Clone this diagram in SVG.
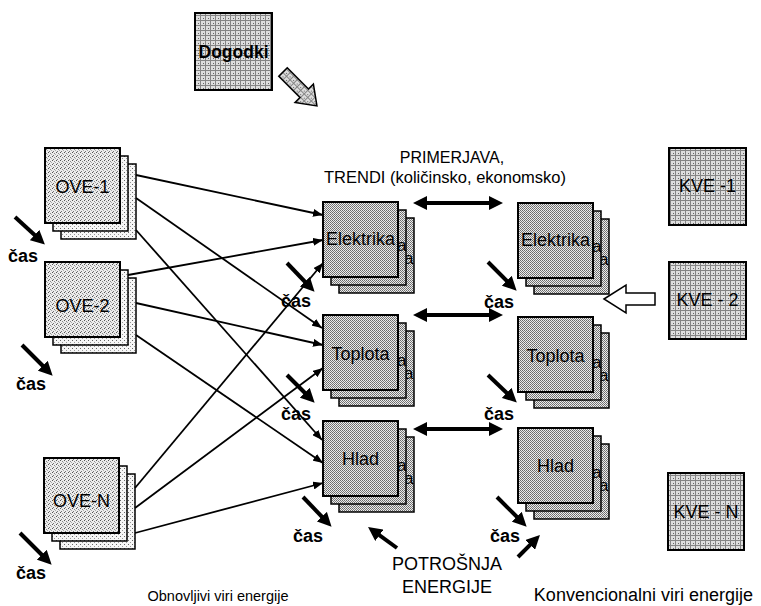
<svg xmlns="http://www.w3.org/2000/svg" width="761" height="606" viewBox="0 0 761 606">
<defs>
<pattern id="pOVE" width="4" height="4" patternUnits="userSpaceOnUse"><rect width="4" height="4" fill="#ececec"/><rect x="0" y="0" width="1" height="1" fill="#555"/><rect x="2" y="1" width="1" height="1" fill="#888"/><rect x="1" y="3" width="1" height="1" fill="#777"/><rect x="3" y="2" width="1" height="1" fill="#aaa"/></pattern>
<pattern id="pOVEb" width="4" height="4" patternUnits="userSpaceOnUse"><rect width="4" height="4" fill="#f6f6f6"/><rect x="0" y="0" width="1" height="1" fill="#666"/><rect x="2" y="2" width="1" height="1" fill="#999"/></pattern>
<pattern id="pDark" width="2" height="2" patternUnits="userSpaceOnUse"><rect width="2" height="2" fill="#ececec"/><rect x="0" y="0" width="1" height="1" fill="#6a6a6a"/><rect x="1" y="1" width="1" height="1" fill="#7a7a7a"/></pattern>
<pattern id="pGrid" width="5" height="5" patternUnits="userSpaceOnUse"><rect width="5" height="5" fill="#dedede"/><rect x="0" y="0" width="5" height="1" fill="#858585"/><rect x="0" y="0" width="1" height="5" fill="#858585"/><rect x="3" y="3" width="1" height="1" fill="#666"/></pattern>
<marker id="ah" markerWidth="10" markerHeight="8" refX="10" refY="4" orient="auto" markerUnits="userSpaceOnUse"><path d="M0,0 L10,4 L0,8 z" fill="#000"/></marker>
<marker id="th" markerWidth="14" markerHeight="14" refX="6" refY="7" orient="auto-start-reverse" markerUnits="userSpaceOnUse"><path d="M0,0 L14,7 L0,14 z" fill="#000"/></marker>
</defs>
<style>
.fr{stroke:#000;stroke-width:2}
.bk{stroke:#000;stroke-width:1.5}
.ove{fill:url(#pOVE)}
.oveb{fill:url(#pOVEb)}
.dk{fill:url(#pDark)}
.gr{fill:url(#pGrid)}
.lbl{font-family:"Liberation Sans",Arial,sans-serif;font-size:18px;text-anchor:middle;fill:#000}
.frag{font-family:"Liberation Sans",Arial,sans-serif;font-size:17px;fill:#000}
.cas{font-family:"Liberation Sans",Arial,sans-serif;font-size:18px;font-weight:bold;fill:#000}
.txt{font-family:"Liberation Sans",Arial,sans-serif;fill:#000}
.thin{stroke:#000;stroke-width:1.8;fill:none;marker-end:url(#ah)}
.thick{stroke:#000;stroke-width:4;fill:none;marker-end:url(#th)}
.dbl{stroke:#000;stroke-width:4;fill:none;marker-end:url(#th);marker-start:url(#th)}
</style>

<g id="dogodki">
<rect class="fr gr" x="195" y="13" width="77" height="77"/>
<text class="txt" x="233.5" y="58" font-size="17.5" font-weight="bold" text-anchor="middle">Dogodki</text>
<polygon class="gr" stroke="#000" stroke-width="1.5" points="0,-6 30,-6 30,-13 48,0 30,13 30,6 0,6" transform="translate(283,72) rotate(45)"/>
</g>

<g id="ove-1">
<rect class="bk oveb" x="61" y="164" width="75" height="75"/>
<rect class="bk oveb" x="53" y="156" width="75" height="75"/>
<rect class="fr ove" x="45" y="148" width="75" height="75"/>
<text class="lbl" x="82.5" y="193">OVE-1</text>
</g>
<g id="ove-2">
<rect class="bk oveb" x="61" y="278" width="75" height="75"/>
<rect class="bk oveb" x="53" y="270" width="75" height="75"/>
<rect class="fr ove" x="45" y="262" width="75" height="75"/>
<text class="lbl" x="82.5" y="312">OVE-2</text>
</g>
<g id="ove-n">
<rect class="bk oveb" x="60" y="474" width="75" height="75"/>
<rect class="bk oveb" x="52" y="466" width="75" height="75"/>
<rect class="fr ove" x="44" y="458" width="75" height="75"/>
<text class="lbl" x="81.5" y="507">OVE-N</text>
</g>

<g id="elektrika-1">
<rect class="bk dk" x="339" y="218" width="75" height="75"/>
<text class="frag" x="404" y="264">a</text>
<rect class="bk dk" x="331" y="210" width="75" height="75"/>
<text class="frag" x="397" y="251">a</text>
<rect class="fr dk" x="323" y="202" width="75" height="75"/>
<text class="lbl" x="360.5" y="245">Elektrika</text>
</g>
<g id="toplota-1">
<rect class="bk dk" x="339" y="331" width="75" height="75"/>
<text class="frag" x="404" y="379">a</text>
<rect class="bk dk" x="331" y="323" width="75" height="75"/>
<text class="frag" x="397" y="366">a</text>
<rect class="fr dk" x="323" y="315" width="75" height="75"/>
<text class="lbl" x="360.5" y="360">Toplota</text>
</g>
<g id="hlad-1">
<rect class="bk dk" x="339" y="437" width="75" height="75"/>
<text class="frag" x="404" y="484">a</text>
<rect class="bk dk" x="331" y="429" width="75" height="75"/>
<text class="frag" x="397" y="471">a</text>
<rect class="fr dk" x="323" y="421" width="75" height="75"/>
<text class="lbl" x="360.5" y="465">Hlad</text>
</g>

<g id="elektrika-2">
<rect class="bk dk" x="534" y="219" width="75" height="75"/>
<text class="frag" x="599" y="265">a</text>
<rect class="bk dk" x="526" y="211" width="75" height="75"/>
<text class="frag" x="592" y="252">a</text>
<rect class="fr dk" x="518" y="203" width="75" height="75"/>
<text class="lbl" x="555.5" y="246">Elektrika</text>
</g>
<g id="toplota-2">
<rect class="bk dk" x="534" y="333" width="75" height="75"/>
<text class="frag" x="599" y="381">a</text>
<rect class="bk dk" x="526" y="325" width="75" height="75"/>
<text class="frag" x="592" y="368">a</text>
<rect class="fr dk" x="518" y="317" width="75" height="75"/>
<text class="lbl" x="555.5" y="362">Toplota</text>
</g>
<g id="hlad-2">
<rect class="bk dk" x="534" y="444" width="75" height="75"/>
<text class="frag" x="599" y="491">a</text>
<rect class="bk dk" x="526" y="436" width="75" height="75"/>
<text class="frag" x="592" y="478">a</text>
<rect class="fr dk" x="518" y="428" width="75" height="75"/>
<text class="lbl" x="555.5" y="472">Hlad</text>
</g>

<g id="kve-1">
<rect class="fr gr" x="669" y="148" width="77" height="77"/>
<text class="lbl" x="707.5" y="192">KVE -1</text>
</g>
<g id="kve-2">
<rect class="fr gr" x="669" y="262" width="77" height="77"/>
<text class="lbl" x="707.5" y="306">KVE - 2</text>
<polygon fill="#fff" stroke="#000" stroke-width="1.5" points="604,299 626,285 626,293 655,293 655,305 626,305 626,313"/>
</g>
<g id="kve-n">
<rect class="fr gr" x="668" y="473" width="76" height="77"/>
<text class="lbl" x="706" y="518">KVE - N</text>
</g>

<g id="connectors">
<line class="thin" x1="136" y1="175" x2="323" y2="215"/>
<line class="thin" x1="136" y1="198" x2="322" y2="328"/>
<line class="thin" x1="136" y1="230" x2="322" y2="440"/>
<line class="thin" x1="128" y1="275" x2="323" y2="240"/>
<line class="thin" x1="136" y1="303" x2="323" y2="345"/>
<line class="thin" x1="136" y1="335" x2="323" y2="463"/>
<line class="thin" x1="135" y1="488" x2="323" y2="263"/>
<line class="thin" x1="135" y1="508" x2="323" y2="368"/>
<line class="thin" x1="135" y1="533" x2="323" y2="483"/>
<line class="dbl" x1="421" y1="203" x2="495" y2="203"/>
<line class="dbl" x1="421" y1="315" x2="495" y2="315"/>
<line class="dbl" x1="421" y1="429" x2="495" y2="429"/>
<line class="thick" x1="15" y1="217" x2="39" y2="239"/>
<line class="thick" x1="22" y1="345" x2="47" y2="370"/>
<line class="thick" x1="20" y1="533" x2="46" y2="559"/>
<line class="thick" x1="287" y1="263" x2="309" y2="286"/>
<line class="thick" x1="287" y1="375" x2="309" y2="397"/>
<line class="thick" x1="303" y1="497" x2="326" y2="521"/>
<line class="thick" x1="488" y1="262" x2="511" y2="285"/>
<line class="thick" x1="488" y1="375" x2="511" y2="397"/>
<line class="thick" x1="497" y1="497" x2="521" y2="521"/>
<line class="thick" x1="397" y1="548" x2="374.5" y2="531.7"/>
<line class="thick" x1="518" y1="557" x2="534.3" y2="540.7"/>
</g>

<g id="labels">
<text class="cas" x="8" y="262">čas</text>
<text class="cas" x="16" y="390">čas</text>
<text class="cas" x="16" y="579">čas</text>
<text class="cas" x="281" y="307">čas</text>
<text class="cas" x="281" y="420">čas</text>
<text class="cas" x="293" y="542">čas</text>
<text class="cas" x="484" y="308">čas</text>
<text class="cas" x="484" y="420">čas</text>
<text class="cas" x="490" y="542">čas</text>
<text class="txt" x="452" y="163" font-size="16" text-anchor="middle">PRIMERJAVA,</text>
<text class="txt" x="445" y="183" font-size="16.5" text-anchor="middle">TRENDI (količinsko, ekonomsko)</text>
<text class="txt" x="447" y="570" font-size="18" text-anchor="middle">POTROŠNJA</text>
<text class="txt" x="447" y="593" font-size="18" text-anchor="middle">ENERGIJE</text>
<text class="txt" x="218" y="601" font-size="14.5" text-anchor="middle">Obnovljivi viri energije</text>
<text class="txt" x="753" y="601" font-size="18" text-anchor="end">Konvencionalni viri energije</text>
</g>
</svg>
